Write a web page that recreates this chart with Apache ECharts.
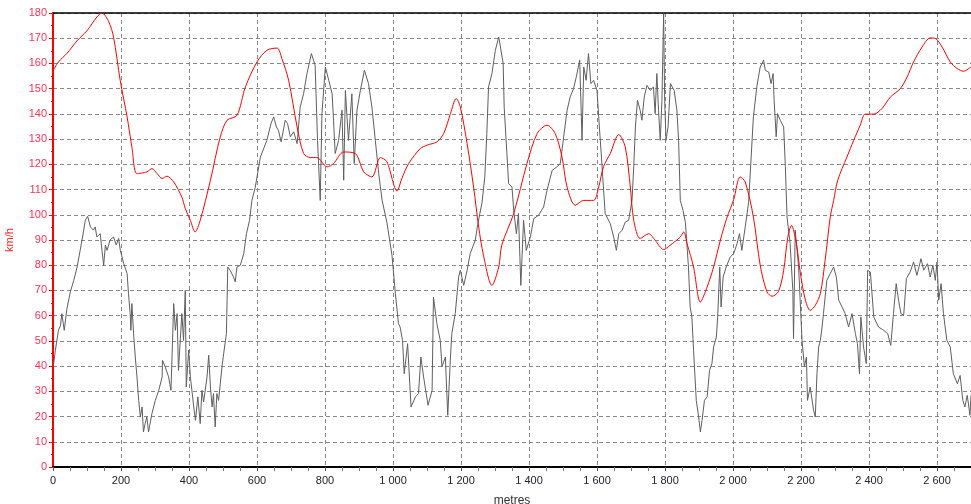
<!DOCTYPE html>
<html>
<head>
<meta charset="utf-8">
<script src="https://cdn.jsdelivr.net/npm/echarts@6/dist/echarts.min.js"></script>
<style>html,body{margin:0;padding:0;background:#fff}#c{width:971px;height:504px}</style>
</head>
<body>
<div id="c"></div>
<script>
var xTicks = [0,200,400,600,800,1000,1200,1400,1600,1800,2000,2200,2400,2600];
var redX = [0,16,41,71,100,129,144,164,178,198,218,232,247,276,291,306,321,335,355,379,389,404,418,433,463,492,512,541,566,600,629,659,673,693,718,737,757,776,806,825,855,889,914,938,963,982,1012,1026,1046,1080,1100,1129,1149,1169,1186,1198,1218,1237,1252,1266,1291,1311,1320,1355,1394,1424,1453,1477,1497,1512,1536,1561,1590,1605,1619,1639,1664,1683,1698,1708,1727,1752,1771,1796,1815,1845,1855,1865,1884,1904,1924,1943,1963,1982,2002,2021,2036,2060,2080,2100,2115,2134,2149,2161,2172,2186,2198,2213,2227,2242,2257,2271,2286,2296,2308,2335,2355,2374,2389,2414,2438,2463,2492,2512,2531,2556,2580,2595,2615,2639,2659,2678,2700];
var redY = [157,160.6,164,169,173,178.4,180,176.5,170.5,153,138.8,126.9,116.3,117,118.3,116.3,114.4,115.3,113,107,102.5,97.8,93.2,97.8,113.7,130.9,137.5,139.4,150.7,160.6,165.2,166.1,162,153.3,134.8,124.3,122.7,122.7,119,120.3,124.9,124.3,117,115,122.7,121,109.4,114.4,120.3,126.2,127.6,128.9,132.2,140.1,146.1,142.7,128.2,111,95.2,84,72,79.3,88,100.5,120.3,132.2,135.5,132.2,122.9,111,103.8,105.7,105.7,111,119,124.3,131.8,126.9,111,97.8,90.6,92.5,89.9,86.2,87.9,91.2,93.2,88.5,79.3,65.4,71.4,79.3,90,98.8,106,115,113,99.1,80,69.4,67.7,69.7,78,91,95.8,89,77,66.1,62.1,64.1,68.8,82,99.1,105.7,113.7,122.9,129.5,135.5,139.9,139.9,142.1,146.7,150,154.6,160.6,166.5,170.1,169.9,166.5,160.6,158,156.9,158.6];
var grayX = [0,2,7,16,22,26,33,41,51,61,71,80,88,95,102,110,119,124,129,139,144,149,154,159,168,178,186,193,198,208,218,222,227,229,232,237,242,247,252,257,262,266,271,276,281,291,301,311,321,322,330,340,347,355,360,365,369,379,384,389,392,399,404,414,419,426,433,438,443,453,458,463,468,472,477,482,487,497,502,510,512,514,521,531,536,541,551,561,569,578,585,595,610,629,641,649,657,663,671,683,690,698,708,718,727,737,747,760,771,778,786,791,801,811,821,825,830,840,850,855,860,869,879,886,894,904,916,928,938,948,958,968,982,997,1007,1016,1021,1028,1033,1043,1053,1066,1075,1082,1090,1103,1115,1119,1129,1139,1144,1154,1161,1169,1173,1183,1193,1198,1208,1218,1227,1242,1249,1262,1270,1276,1281,1291,1301,1311,1316,1324,1327,1335,1340,1350,1355,1363,1369,1376,1384,1392,1404,1414,1428,1443,1453,1468,1482,1492,1502,1512,1521,1531,1539,1549,1556,1561,1568,1575,1582,1590,1600,1607,1615,1624,1639,1649,1657,1664,1674,1683,1693,1703,1708,1713,1719,1727,1732,1739,1747,1757,1766,1771,1776,1781,1786,1791,1796,1799,1803,1809,1816,1827,1835,1840,1845,1853,1860,1869,1874,1879,1884,1892,1899,1904,1909,1916,1924,1931,1938,1943,1951,1955,1961,1965,1971,1980,1992,2002,2012,2019,2026,2036,2046,2060,2070,2080,2090,2095,2105,2112,2118,2121,2127,2131,2139,2149,2154,2159,2168,2176,2178,2183,2193,2203,2210,2216,2219,2227,2237,2242,2247,2252,2257,2262,2266,2276,2286,2296,2304,2311,2321,2330,2340,2350,2360,2366,2372,2376,2384,2392,2396,2404,2414,2428,2443,2455,2464,2472,2480,2487,2494,2502,2510,2521,2531,2541,2553,2561,2572,2580,2588,2595,2600,2605,2612,2619,2629,2639,2648,2660,2668,2676,2682,2689,2697,2700];
var grayY = [40,41,46.3,54.2,56,60.8,54.2,62.8,69.4,74,79.3,86,92,97.8,99.4,95.2,93.9,95.2,91.2,92.5,85.9,80,88,85.9,90,91.2,88,90.6,85.9,80.6,76.7,68.8,60.8,54.2,64.8,52.9,43.6,35.7,26.4,19.8,23.8,13.9,17.2,19.8,13.9,21.2,26.4,30.4,35.7,42.3,39.7,35.7,30.4,64.8,54.2,60.8,38.3,60.8,50.2,70,31.7,46.3,35.7,23.8,18.5,27.8,17.2,30.4,25.8,35.7,44.3,31.7,23.8,29.1,15.9,29.1,26.4,39.7,45,52.9,66.1,79.3,78,75.3,73.4,79.3,80,84.6,92.5,97.8,105.7,111,122.9,129.5,136.1,138.8,134.8,133.5,128.9,137.5,136.1,130.9,132.9,128.2,142.7,148,156,163.9,159.3,129.5,105.7,140.1,158.6,153.3,148,137.5,124.3,129.5,141.4,113.7,149.3,129.5,148,120.3,141.4,149.3,157.3,152,142.7,129.5,116.3,105.7,97,84,68.8,56.9,55.5,50.2,37,48.9,23.8,27.8,29.1,43.6,35.7,24.5,30.4,67.4,56.9,50.2,39.7,43.6,20.5,43.6,52.9,60.8,75.3,78,72,78,84.6,89.9,96,105,115,132.2,150.7,156,165.2,170.5,169.9,160,142.7,124.3,112.4,111,101.8,92.5,100.5,72,97.8,85.9,91.2,98.5,99.8,103.1,109.7,117.6,119,120.3,130.9,141.4,146.7,150,154.6,161.3,129.5,158.6,153.3,163.9,152,153.3,149.3,134.8,119,100.5,96.5,91.2,85.9,92.5,93.9,97.1,97.8,105.7,119,134.8,145.4,141.4,137.5,146.7,151.3,149.3,150.7,140.1,156,141.4,129.5,145.4,179.8,145.4,129.5,134.8,152,149.3,141.4,129.5,105.7,101.8,97,79.3,63.4,59.5,46.3,26.4,19.8,13.9,18.5,26.4,27.8,38.3,41,47.6,51.5,59.5,79.3,63.4,75.3,79.3,83.3,84.6,88.6,92.5,85.9,95.2,105,138.8,150.7,158.6,161.3,157.3,156.6,152,156,145.4,130.9,140.1,137.5,134.8,119,99.1,88.6,70,50.9,93.9,79.3,50.2,39.7,43.6,26.4,31.7,22.5,19.8,37,47.6,50.2,55.5,60.8,74,76.7,79.3,75.3,66.1,63.4,60.8,55.5,60.8,52.9,48.9,37,59.5,47.6,41,78,77.3,59.5,55.5,54.2,52.9,48.2,60.8,72.7,66.1,60.8,60.2,74.7,77.3,81.3,76,82.6,78,80.6,75.3,80,74,81.3,66.1,72.7,60.8,50.2,47.6,37,33,36.3,26.4,23.8,28.4,20.5,28.4];

function zip(a, b) { return a.map(function (v, i) { return [v, b[i]]; }); }
function fmt(v) {
  var s = String(Math.round(v));
  return s.replace(/\B(?=(\d{3})+(?!\d))/g, ' ');
}

var chart = echarts.init(document.getElementById('c'), null, { renderer: 'canvas' });
chart.setOption({
  animation: false,
  backgroundColor: '#ffffff',
  textStyle: { fontFamily: 'Liberation Sans, Arial, sans-serif' },
  grid: { left: 53, right: 0, top: 13, bottom: 37, containLabel: false, outerBoundsMode: 'none' },
  xAxis: [{
    type: 'value', min: 0, max: 2700, interval: 200,
    name: 'metres', nameLocation: 'middle', nameGap: 28,
    nameTextStyle: { color: '#333', fontSize: 12 },
    axisLine: { show: true, lineStyle: { color: '#000', width: 2 } },
    axisTick: { show: true, length: 4, lineStyle: { color: '#555' } },
    minorTick: { show: true, splitNumber: 4, length: 4, lineStyle: { color: '#777' } },
    axisLabel: { color: '#223', fontSize: 11, margin: 8, formatter: fmt, showMaxLabel: false },
    splitLine: { show: true, lineStyle: { color: '#888', type: [4, 3], width: 1 } }
  }, {
    type: 'value', min: 0, max: 2700, position: 'top',
    axisLine: { show: true, lineStyle: { color: '#000', width: 1.5 } },
    axisTick: { show: false }, axisLabel: { show: false }, splitLine: { show: false }
  }],
  yAxis: {
    type: 'value', min: 0, max: 180, interval: 10,
    name: 'km/h', nameLocation: 'middle', nameGap: 38, nameRotate: 90,
    nameTextStyle: { color: '#ff2020', fontSize: 11 },
    axisLine: { show: true, lineStyle: { color: '#ff0000', width: 2 } },
    axisTick: { show: true, length: 4, lineStyle: { color: '#ff0000' } },
    minorTick: { show: true, splitNumber: 2, length: 2, lineStyle: { color: '#ff0000' } },
    axisLabel: { color: '#ff3355', fontSize: 11, margin: 6 },
    splitLine: { show: true, lineStyle: { color: '#888', type: [4, 3], width: 1 } }
  },
  series: [{
    type: 'line', data: zip(grayX, grayY), showSymbol: false, symbol: 'none',
    lineStyle: { color: '#5f5f5f', width: 1 }, z: 2
  }, {
    type: 'line', data: zip(redX, redY), showSymbol: false, symbol: 'none',
    smooth: 0.3,
    lineStyle: { color: '#ff0000', width: 1 }, z: 3
  }]
});
</script>
</body>
</html>
